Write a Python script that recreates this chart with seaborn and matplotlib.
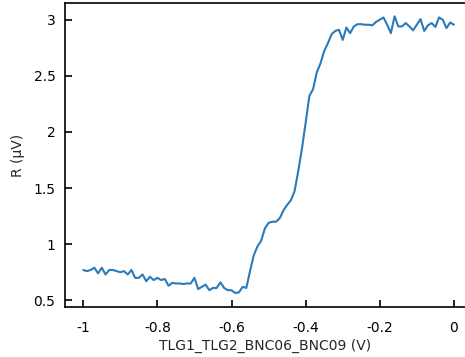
import numpy as np
import pandas as pd
import matplotlib
matplotlib.use("Agg")
import matplotlib.pyplot as plt
import seaborn as sns
from matplotlib.ticker import FuncFormatter

# Gate voltage (V): -1.00 ... 0.00 in 0.01 steps
voltage = [round(-1.0 + 0.01 * i, 2) for i in range(101)]

# Resistance R (uV)
resistance = [
    0.77, 0.76, 0.77, 0.79, 0.74, 0.79, 0.73, 0.77, 0.77, 0.76,   # -1.00 .. -0.91
    0.75, 0.76, 0.73, 0.77, 0.70, 0.70, 0.73, 0.67, 0.71, 0.68,   # -0.90 .. -0.81
    0.70, 0.68, 0.69, 0.63, 0.655, 0.65, 0.65, 0.645, 0.65, 0.65, # -0.80 .. -0.71
    0.70, 0.60, 0.62, 0.64, 0.59, 0.61, 0.61, 0.66, 0.61, 0.59,   # -0.70 .. -0.61
    0.59, 0.565, 0.57, 0.62, 0.61, 0.76, 0.90, 0.98, 1.03, 1.14,  # -0.60 .. -0.51
    1.19, 1.20, 1.20, 1.23, 1.30, 1.35, 1.39, 1.47, 1.65, 1.85,   # -0.50 .. -0.41
    2.08, 2.32, 2.38, 2.53, 2.61, 2.72, 2.79, 2.87, 2.90, 2.91,   # -0.40 .. -0.31
    2.82, 2.93, 2.88, 2.94, 2.96, 2.96, 2.955, 2.955, 2.95, 2.98, # -0.30 .. -0.21
    3.00, 3.02, 2.955, 2.88, 3.03, 2.94, 2.94, 2.97, 2.94, 2.905, # -0.20 .. -0.11
    2.955, 3.005, 2.90, 2.95, 2.97, 2.935, 3.02, 3.00, 2.925, 2.975,  # -0.10 .. -0.01
    2.955,                                                        # 0.00
]

x_ticks = [-1, -0.8, -0.6, -0.4, -0.2, 0]
y_ticks = [0.5, 1, 1.5, 2, 2.5, 3]

df = pd.DataFrame({"V": voltage, "R": resistance})

sns.set_theme(style="white")
plt.rcParams["font.family"] = ["DejaVu Sans"]
plt.rcParams["axes.unicode_minus"] = False

fig = plt.figure(figsize=(4.65, 3.57), dpi=100)
ax = fig.add_axes([0.140, 0.140, 0.860, 0.852])

sns.lineplot(data=df, x="V", y="R", ax=ax, color="#2b7bba", linewidth=1.5)

ax.set_xlim(-1.049, 0.03)
ax.set_ylim(0.44, 3.15)
ax.set_xticks(x_ticks)
ax.set_yticks(y_ticks)
fmt = FuncFormatter(lambda v, p: f"{v:g}")
ax.xaxis.set_major_formatter(fmt)
ax.yaxis.set_major_formatter(fmt)

ax.tick_params(direction="in", length=5, width=1.2, colors="black",
               labelsize=10, bottom=True, left=True, top=False, right=False)
ax.tick_params(axis="x", pad=10)
ax.tick_params(axis="y", pad=7)
for s in ["left", "bottom", "top"]:
    ax.spines[s].set_visible(True)
    ax.spines[s].set_color("black")
    ax.spines[s].set_linewidth(1.2)
ax.spines["right"].set_visible(False)

ax.set_xlabel("TLG1_TLG2_BNC06_BNC09 (V)", fontsize=10, labelpad=3)
ax.set_ylabel("R (\u03bcV)", fontsize=10, labelpad=6)

fig.savefig("out.png", dpi=100)
